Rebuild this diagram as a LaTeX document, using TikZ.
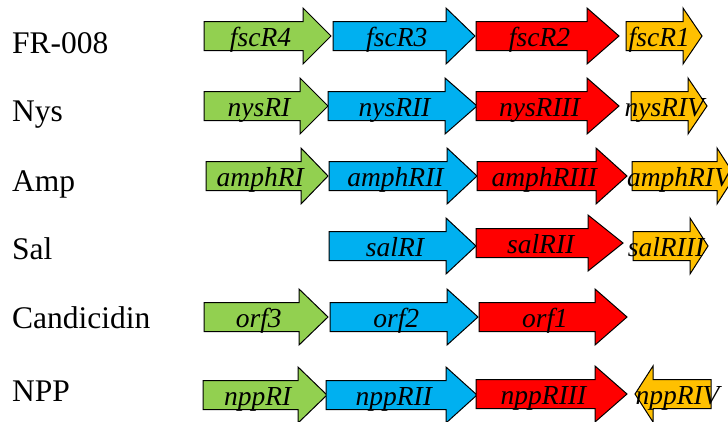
\documentclass[tikz,border=0pt]{standalone}
\usepackage{fontspec}
\setmainfont{Liberation Serif}
\usepackage{tikz}
\usetikzlibrary{calc}

% gene arrow: name, style, start, head base, tip, y, label
\newcommand{\gene}[7]{%
    \pgfmathsetmacro{\gx}{(#3+#5)/2-(#5-#4)/4}
    \draw[#2] (#3,#6-14.5) -- (#4,#6-14.5) -- (#4,#6-28) -- (#5,#6) -- (#4,#6+28) -- (#4,#6+14.5) -- (#3,#6+14.5) -- cycle;
    \node[genelabel] (#1) at (\gx,#6+10) {#7};
}

\begin{document}
\begin{tikzpicture}[
    x=1pt, y=-1pt,
    gene/.style={draw=black, line width=1pt, line join=miter},
    ggreen/.style={gene, fill={rgb,255:red,146;green,208;blue,80}},
    gblue/.style={gene, fill={rgb,255:red,0;green,176;blue,240}},
    gred/.style={gene, fill={rgb,255:red,255;green,0;blue,0}},
    gyellow/.style={gene, fill={rgb,255:red,255;green,192;blue,0}},
    genelabel/.style={anchor=base, inner sep=0pt, font=\fontsize{27.5}{30}\selectfont\itshape},
    rowlabel/.style={anchor=base west, inner sep=0pt, font=\fontsize{31.5}{36}\selectfont}
]
    \useasboundingbox (0,0) rectangle (728,421);

    % cluster names
    \node[rowlabel] (fr)   at (12,53)  {FR-008};
    \node[rowlabel] (nys)  at (12,121) {Nys};
    \node[rowlabel] (amp)  at (12,191) {Amp};
    \node[rowlabel] (sal)  at (12,259) {Sal};
    \node[rowlabel] (can)  at (12,328) {Candicidin};
    \node[rowlabel] (npp)  at (12,401) {NPP};

    % FR-008
    \gene{fscR4}{ggreen}{204}{303}{331}{36}{fscR4}
    \gene{fscR3}{gblue}{333}{446}{475}{36}{fscR3}
    \gene{fscR2}{gred}{476}{587}{619}{36}{fscR2}
    \gene{fscR1}{gyellow}{626}{683}{702}{36}{fscR1}

    % Nys
    \gene{nysRI}{ggreen}{204}{300}{328}{106}{nysRI}
    \gene{nysRII}{gblue}{328}{445}{477}{106}{nysRII}
    \gene{nysRIII}{gred}{476}{587}{619}{106}{nysRIII}
    \gene{nysRIV}{gyellow}{631}{688}{707}{106}{nysRIV}

    % Amp
    \gene{amphRI}{ggreen}{206}{301}{328}{176}{amphRI}
    \gene{amphRII}{gblue}{329}{447}{477}{176}{amphRII}
    \gene{amphRIII}{gred}{477}{596}{627}{176}{amphRIII}
    \gene{amphRIV}{gyellow}{632}{717}{735}{176}{amphRIV}

    % Sal
    \gene{salRI}{gblue}{329}{446}{476}{246}{salRI}
    \gene{salRII}{gred}{476}{588}{623}{243}{salRII}
    \gene{salRIII}{gyellow}{633}{690}{708}{246}{salRIII}

    % Candicidin
    \gene{orf3}{ggreen}{204}{299}{328}{317}{orf3}
    \gene{orf2}{gblue}{330}{447}{478}{317}{orf2}
    \gene{orf1}{gred}{479}{595}{627}{317}{orf1}

    % NPP
    \gene{nppRI}{ggreen}{203}{298}{327}{395}{nppRI}
    \gene{nppRII}{gblue}{326}{446}{477}{395}{nppRII}
    \gene{nppRIII}{gred}{476}{595}{627}{394}{nppRIII}
    \gene{nppRIV}{gyellow}{711}{653}{635}{394}{nppRIV}
\end{tikzpicture}
\end{document}
